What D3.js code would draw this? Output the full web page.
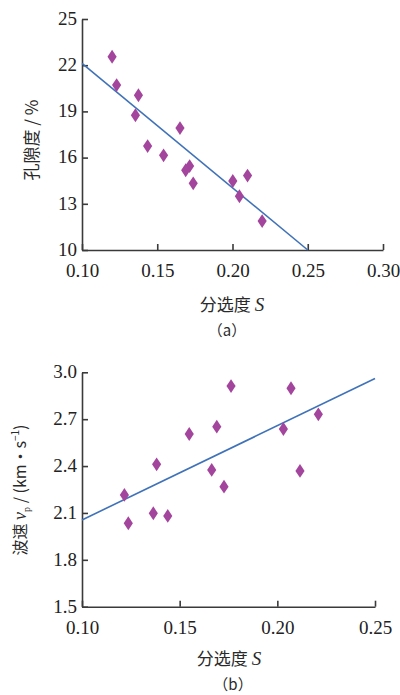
<!DOCTYPE html>
<html>
<head>
<meta charset="utf-8">
<script src="https://cdn.jsdelivr.net/npm/d3@7"></script>
<style>
  body { margin: 0; background: #fff; }
  svg { display: block; }
  .tick text { font-family: "Liberation Serif", "DejaVu Serif", serif; font-size: 19px; fill: #222; }
  .cn { font-family: "Noto Sans CJK SC", sans-serif; fill: #2a2a2a; }
</style>
</head>
<body>
<svg id="chart" width="400" height="695"></svg>
<script>
// panel (a): porosity vs sorting
const sortA = [0.120, 0.123, 0.1375, 0.1355, 0.1436, 0.1542, 0.1651, 0.1715, 0.1689, 0.1739, 0.2002, 0.2100, 0.2046, 0.2197];
const porosity = [22.55, 20.71, 20.05, 18.75, 16.75, 16.15, 17.92, 15.45, 15.18, 14.33, 14.48, 14.83, 13.49, 11.88];
const fitA = [[0.10, 22.12], [0.25, 10.0]];
const yTicksA = [10, 13, 16, 19, 22, 25];
const xTicksA = [0.10, 0.15, 0.20, 0.25, 0.30];

// panel (b): P-wave velocity vs sorting
const sortB = [0.1217, 0.1237, 0.1365, 0.1439, 0.1382, 0.1549, 0.1664, 0.169, 0.1727, 0.1763, 0.2031, 0.207, 0.2116, 0.221];
const velocity = [2.215, 2.034, 2.098, 2.081, 2.411, 2.605, 2.375, 2.652, 2.268, 2.912, 2.637, 2.898, 2.369, 2.731];
const fitB = [[0.10, 2.055], [0.25, 2.96]];
const yTicksB = [1.5, 1.8, 2.1, 2.4, 2.7, 3.0];
const xTicksB = [0.10, 0.15, 0.20, 0.25];

const svg = d3.select("#chart");

const axisColor = "#3a3a3a";
const markColor = "#a3459c";
const lineColor = "#3f72b8";

function panel(opt) {
  const g = svg.append("g");
  const x = d3.scaleLinear().domain(opt.xDomain).range(opt.xRange);
  const y = d3.scaleLinear().domain(opt.yDomain).range(opt.yRange);

  const yAxis = g.append("g")
    .attr("transform", `translate(${opt.xRange[0]},0)`)
    .call(d3.axisLeft(y).tickValues(opt.yTicks).tickFormat(opt.yFmt)
      .tickSizeInner(-6).tickSizeOuter(0).tickPadding(5));
  yAxis.selectAll(".tick text").attr("dy", "0.28em");
  const xAxis = g.append("g")
    .attr("transform", `translate(0,${opt.yRange[0]})`)
    .call(d3.axisBottom(x).tickValues(opt.xTicks).tickFormat(d3.format(".2f"))
      .tickSizeInner(-6).tickSizeOuter(0).tickPadding(16));
  xAxis.selectAll(".tick text").attr("dy", "0.6em");
  [xAxis, yAxis].forEach(a => {
    a.select(".domain").attr("stroke", axisColor).attr("stroke-width", 1.6);
    a.selectAll(".tick line").attr("stroke", axisColor).attr("stroke-width", 1.6);
  });

  // fit line
  g.append("path")
    .datum(opt.fit)
    .attr("d", d3.line().x(d => x(d[0])).y(d => y(d[1])))
    .attr("stroke", lineColor).attr("stroke-width", 1.6).attr("fill", "none");

  // diamond markers
  const sym = d3.symbol().type(d3.symbolDiamond).size(55);
  g.selectAll("path.pt")
    .data(opt.xs.map((v, i) => [v, opt.ys[i]]))
    .join("path")
    .attr("class", "pt")
    .attr("d", sym)
    .attr("transform", d => `translate(${x(d[0])},${y(d[1])}) scale(1.15,1)`)
    .attr("fill", markColor);

  // x title
  const xt = g.append("text").attr("class", "cn")
    .attr("x", opt.xTitle[0]).attr("y", opt.xTitle[1])
    .attr("text-anchor", "middle").attr("font-size", 17);
  xt.append("tspan").text("分选度 ");
  xt.append("tspan").attr("font-family", "Liberation Serif").attr("font-style", "italic")
    .attr("font-size", 19).text("S");

  // panel letter
  g.append("text").attr("class", "cn")
    .attr("x", opt.letter[0]).attr("y", opt.letter[1])
    .attr("text-anchor", "middle").attr("font-size", 15)
    .text(opt.letterText);

  return g;
}

const ga = panel({
  xDomain: [0.10, 0.30], xRange: [82, 383],
  yDomain: [10, 25], yRange: [250, 19],
  xTicks: xTicksA, yTicks: yTicksA, yFmt: d3.format("d"),
  xs: sortA, ys: porosity, fit: fitA,
  xTitle: [232, 311], letter: [227, 336], letterText: "（a）"
});
ga.append("text").attr("class", "cn")
  .attr("transform", "translate(38,140) rotate(-90)")
  .attr("text-anchor", "middle").attr("font-size", 17)
  .text("孔隙度 / %");

const gb = panel({
  xDomain: [0.10, 0.25], xRange: [82, 375],
  yDomain: [1.5, 3.0], yRange: [606.7, 372.3],
  xTicks: xTicksB, yTicks: yTicksB, yFmt: d3.format(".1f"),
  xs: sortB, ys: velocity, fit: fitB,
  xTitle: [229, 665], letter: [233, 690], letterText: "（b）"
});
const yl = gb.append("text").attr("class", "cn")
  .attr("transform", "translate(26,490) rotate(-90)")
  .attr("text-anchor", "middle").attr("font-size", 16);
yl.append("tspan").text("波速 ");
yl.append("tspan").attr("font-family", "Liberation Serif").attr("font-style", "italic").attr("font-size", 18).text("v");
yl.append("tspan").attr("font-family", "Liberation Serif").attr("font-size", 10).attr("dy", 4).text("p");
yl.append("tspan").attr("dy", -4).text(" / (km·s");
yl.append("tspan").attr("font-size", 10).attr("dy", -7).text("−1");
yl.append("tspan").attr("dy", 7).text(")");
</script>
</body>
</html>
